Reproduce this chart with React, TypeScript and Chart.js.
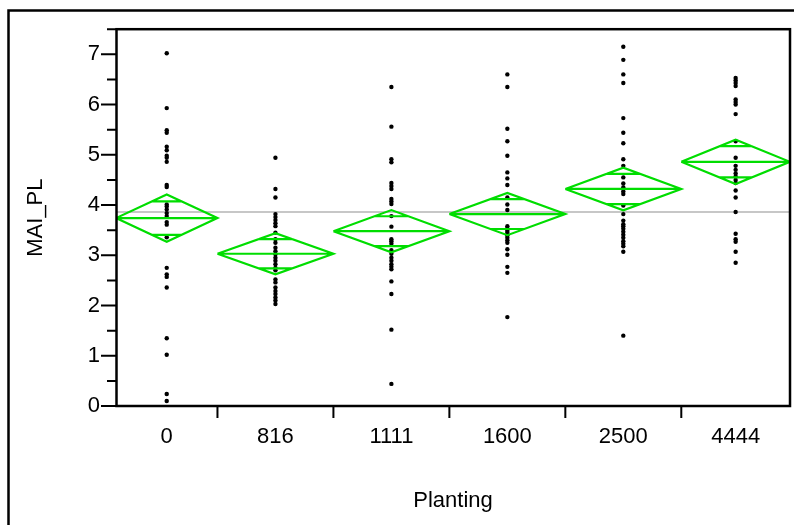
import React, { useEffect, useRef } from 'react';
import { Chart, registerables } from 'chart.js';

Chart.register(...registerables);

// ---- data ----
const plantingLabels = ['0', '816', '1111', '1600', '2500', '4444'];
// group sizes (JMP draws group widths proportional to n)
const groupCounts = [28, 32, 32, 32, 32, 30];

const mai0 = [7.02, 5.93, 5.49, 5.44, 5.16, 5.09, 4.98, 4.94, 4.86, 4.4, 4.36, 4.01, 3.97, 3.91, 3.84, 3.78, 3.66, 3.61, 3.36, 2.75, 2.62, 2.57, 2.36, 1.35, 1.02, 0.24, 0.1];
const mai816 = [4.94, 4.32, 4.15, 3.82, 3.76, 3.7, 3.64, 3.58, 3.45, 3.32, 3.25, 3.15, 3.08, 3.02, 2.95, 2.89, 2.82, 2.75, 2.7, 2.52, 2.46, 2.36, 2.29, 2.23, 2.16, 2.1, 2.03];
const mai1111 = [6.35, 5.56, 4.91, 4.85, 4.44, 4.38, 4.32, 4.12, 4.07, 4.02, 3.78, 3.57, 3.32, 3.28, 3.23, 3.1, 3.03, 2.95, 2.89, 2.82, 2.77, 2.72, 2.48, 2.23, 1.52, 0.44];
const mai1600 = [6.6, 6.35, 5.52, 5.27, 4.98, 4.65, 4.53, 4.4, 4.15, 4.01, 3.9, 3.58, 3.53, 3.49, 3.45, 3.4, 3.35, 3.3, 3.25, 3.12, 3.01, 2.77, 2.65, 1.77];
const mai2500 = [7.15, 6.89, 6.6, 6.43, 5.73, 5.44, 5.23, 4.91, 4.78, 4.55, 4.43, 4.35, 4.27, 4.22, 3.99, 3.82, 3.69, 3.62, 3.58, 3.53, 3.47, 3.41, 3.35, 3.28, 3.23, 3.18, 3.07, 1.4];
const mai4444 = [6.53, 6.48, 6.43, 6.37, 6.1, 6.05, 6.0, 5.81, 5.27, 4.94, 4.78, 4.7, 4.63, 4.57, 4.5, 4.44, 4.29, 4.15, 3.86, 3.43, 3.32, 3.27, 3.07, 2.85];

const groupMeans = [3.74, 3.03, 3.48, 3.82, 4.32, 4.86];
const groupCiHalf = [0.47, 0.41, 0.42, 0.42, 0.425, 0.44];
const grandMean = 3.86;

const yMin = 0;
const yMax = 7.5;
const yStep = 0.5;

const xTitle = 'Planting';
const yTitle = 'MAI_PL';

// ---- derived ----
const groups = [mai0, mai816, mai1111, mai1600, mai2500, mai4444];
const bounds: number[] = [0];
groupCounts.forEach((n, i) => bounds.push(bounds[i] + n));
const total = bounds[bounds.length - 1];
const centers = groupCounts.map((_, i) => (bounds[i] + bounds[i + 1]) / 2);

const FONT = "'Liberation Sans', Arial, sans-serif";
const GREEN = '#00dd00';

function diamondData() {
  const pts: { x: number; y: number | null }[] = [];
  const k = Math.SQRT1_2;
  groupMeans.forEach((m, i) => {
    const L = bounds[i];
    const R = bounds[i + 1];
    const C = centers[i];
    const h = groupCiHalf[i];
    const hw = ((R - L) / 2) * (1 - k);
    pts.push({ x: L, y: m }, { x: C, y: m + h }, { x: R, y: m }, { x: C, y: m - h }, { x: L, y: m });
    pts.push({ x: R, y: null });
    pts.push({ x: L, y: m }, { x: R, y: m });
    pts.push({ x: R, y: null });
    pts.push({ x: C - hw, y: m + h * k }, { x: C + hw, y: m + h * k });
    pts.push({ x: R, y: null });
    pts.push({ x: C - hw, y: m - h * k }, { x: C + hw, y: m - h * k });
    pts.push({ x: R, y: null });
  });
  return pts;
}

const framePlugin = {
  id: 'jmpFrames',
  beforeDraw(chart: any) {
    const ctx = chart.ctx;
    ctx.save();
    ctx.fillStyle = '#ffffff';
    ctx.fillRect(0, 0, chart.width, chart.height);
    ctx.restore();
  },
  afterDraw(chart: any) {
    const ctx = chart.ctx;
    const { left, top, right, bottom } = chart.chartArea;
    const xs = chart.scales.x;
    const ys = chart.scales.y;
    ctx.save();
    ctx.strokeStyle = '#000000';
    // outer frame (top + left)
    ctx.lineWidth = 2.5;
    ctx.beginPath();
    ctx.moveTo(chart.width, 10.5);
    ctx.lineTo(8.5, 10.5);
    ctx.lineTo(8.5, chart.height);
    ctx.stroke();
    // plot box
    ctx.lineWidth = 2.5;
    ctx.strokeRect(left + 0.5, top, right - left - 0.5, bottom - top);
    // y tick marks
    ctx.lineWidth = 2;
    ctx.beginPath();
    for (let v = yMin; v <= yMax + 1e-9; v += yStep) {
      const py = ys.getPixelForValue(v);
      const len = Math.abs(v - Math.round(v)) < 1e-6 ? 15 : 9;
      ctx.moveTo(left - len, py);
      ctx.lineTo(left, py);
    }
    // x boundary tick marks
    for (let i = 1; i < bounds.length - 1; i++) {
      const px = xs.getPixelForValue(bounds[i]);
      ctx.moveTo(px, bottom);
      ctx.lineTo(px, bottom + 12);
    }
    ctx.stroke();
    ctx.restore();
  },
};

export default function App() {
  const ref = useRef<HTMLCanvasElement | null>(null);

  useEffect(() => {
    if (!ref.current) return;
    const pointData: { x: number; y: number }[] = [];
    groups.forEach((vals, i) => vals.forEach((v) => pointData.push({ x: centers[i], y: v })));

    const chart = new Chart(ref.current, {
      type: 'scatter',
      data: {
        datasets: [
          {
            label: 'diamonds',
            data: diamondData(),
            showLine: true,
            spanGaps: false,
            borderColor: GREEN,
            borderWidth: 2.2,
            borderJoinStyle: 'miter',
            pointRadius: 0,
            fill: false,
            order: 0,
          } as any,
          {
            label: 'MAI_PL',
            data: pointData,
            showLine: false,
            pointRadius: 2.2,
            pointBackgroundColor: '#000000',
            pointBorderWidth: 0,
            order: 1,
          } as any,
          {
            label: 'grand mean',
            data: [
              { x: 0, y: grandMean },
              { x: total, y: grandMean },
            ],
            showLine: true,
            borderColor: '#b4b4b4',
            borderWidth: 1.5,
            pointRadius: 0,
            order: 2,
          } as any,
        ],
      },
      options: {
        animation: false,
        responsive: false,
        events: [],
        layout: { padding: { top: 27, right: 3, left: 0, bottom: 0 } },
        plugins: {
          legend: { display: false },
          tooltip: { enabled: false },
        },
        scales: {
          x: {
            type: 'linear',
            min: 0,
            max: total,
            grid: { display: false, drawTicks: false },
            border: { display: false },
            afterBuildTicks: (scale: any) => {
              scale.ticks = centers.map((c) => ({ value: c }));
            },
            afterFit: (scale: any) => {
              scale.height = 119;
            },
            ticks: {
              autoSkip: false,
              maxRotation: 0,
              padding: 18,
              color: '#000000',
              font: { family: FONT, size: 22 },
              callback: (_v: any, idx: number) => plantingLabels[idx],
            },
            title: {
              display: true,
              text: xTitle,
              color: '#000000',
              font: { family: FONT, size: 22 },
              padding: { top: 0, bottom: 11 },
            },
          },
          y: {
            type: 'linear',
            min: yMin,
            max: yMax,
            grid: { display: false, drawTicks: false },
            border: { display: false },
            afterFit: (scale: any) => {
              scale.width = 116;
            },
            ticks: {
              stepSize: yStep,
              autoSkip: false,
              padding: 16,
              color: '#000000',
              font: { family: FONT, size: 22 },
              callback: (v: any) => (Math.abs(v - Math.round(v)) < 1e-6 ? String(Math.round(v)) : ''),
            },
            title: {
              display: true,
              text: yTitle,
              color: '#000000',
              font: { family: FONT, size: 22 },
              padding: { top: 23, bottom: 0 },
            },
          },
        },
      } as any,
      plugins: [framePlugin],
    });
    return () => chart.destroy();
  }, []);

  return (
    <div style={{ position: 'fixed', left: 0, top: 0, width: 794, height: 525, background: '#fff' }}>
      <canvas ref={ref} width={794} height={525} style={{ display: 'block' }} />
    </div>
  );
}
